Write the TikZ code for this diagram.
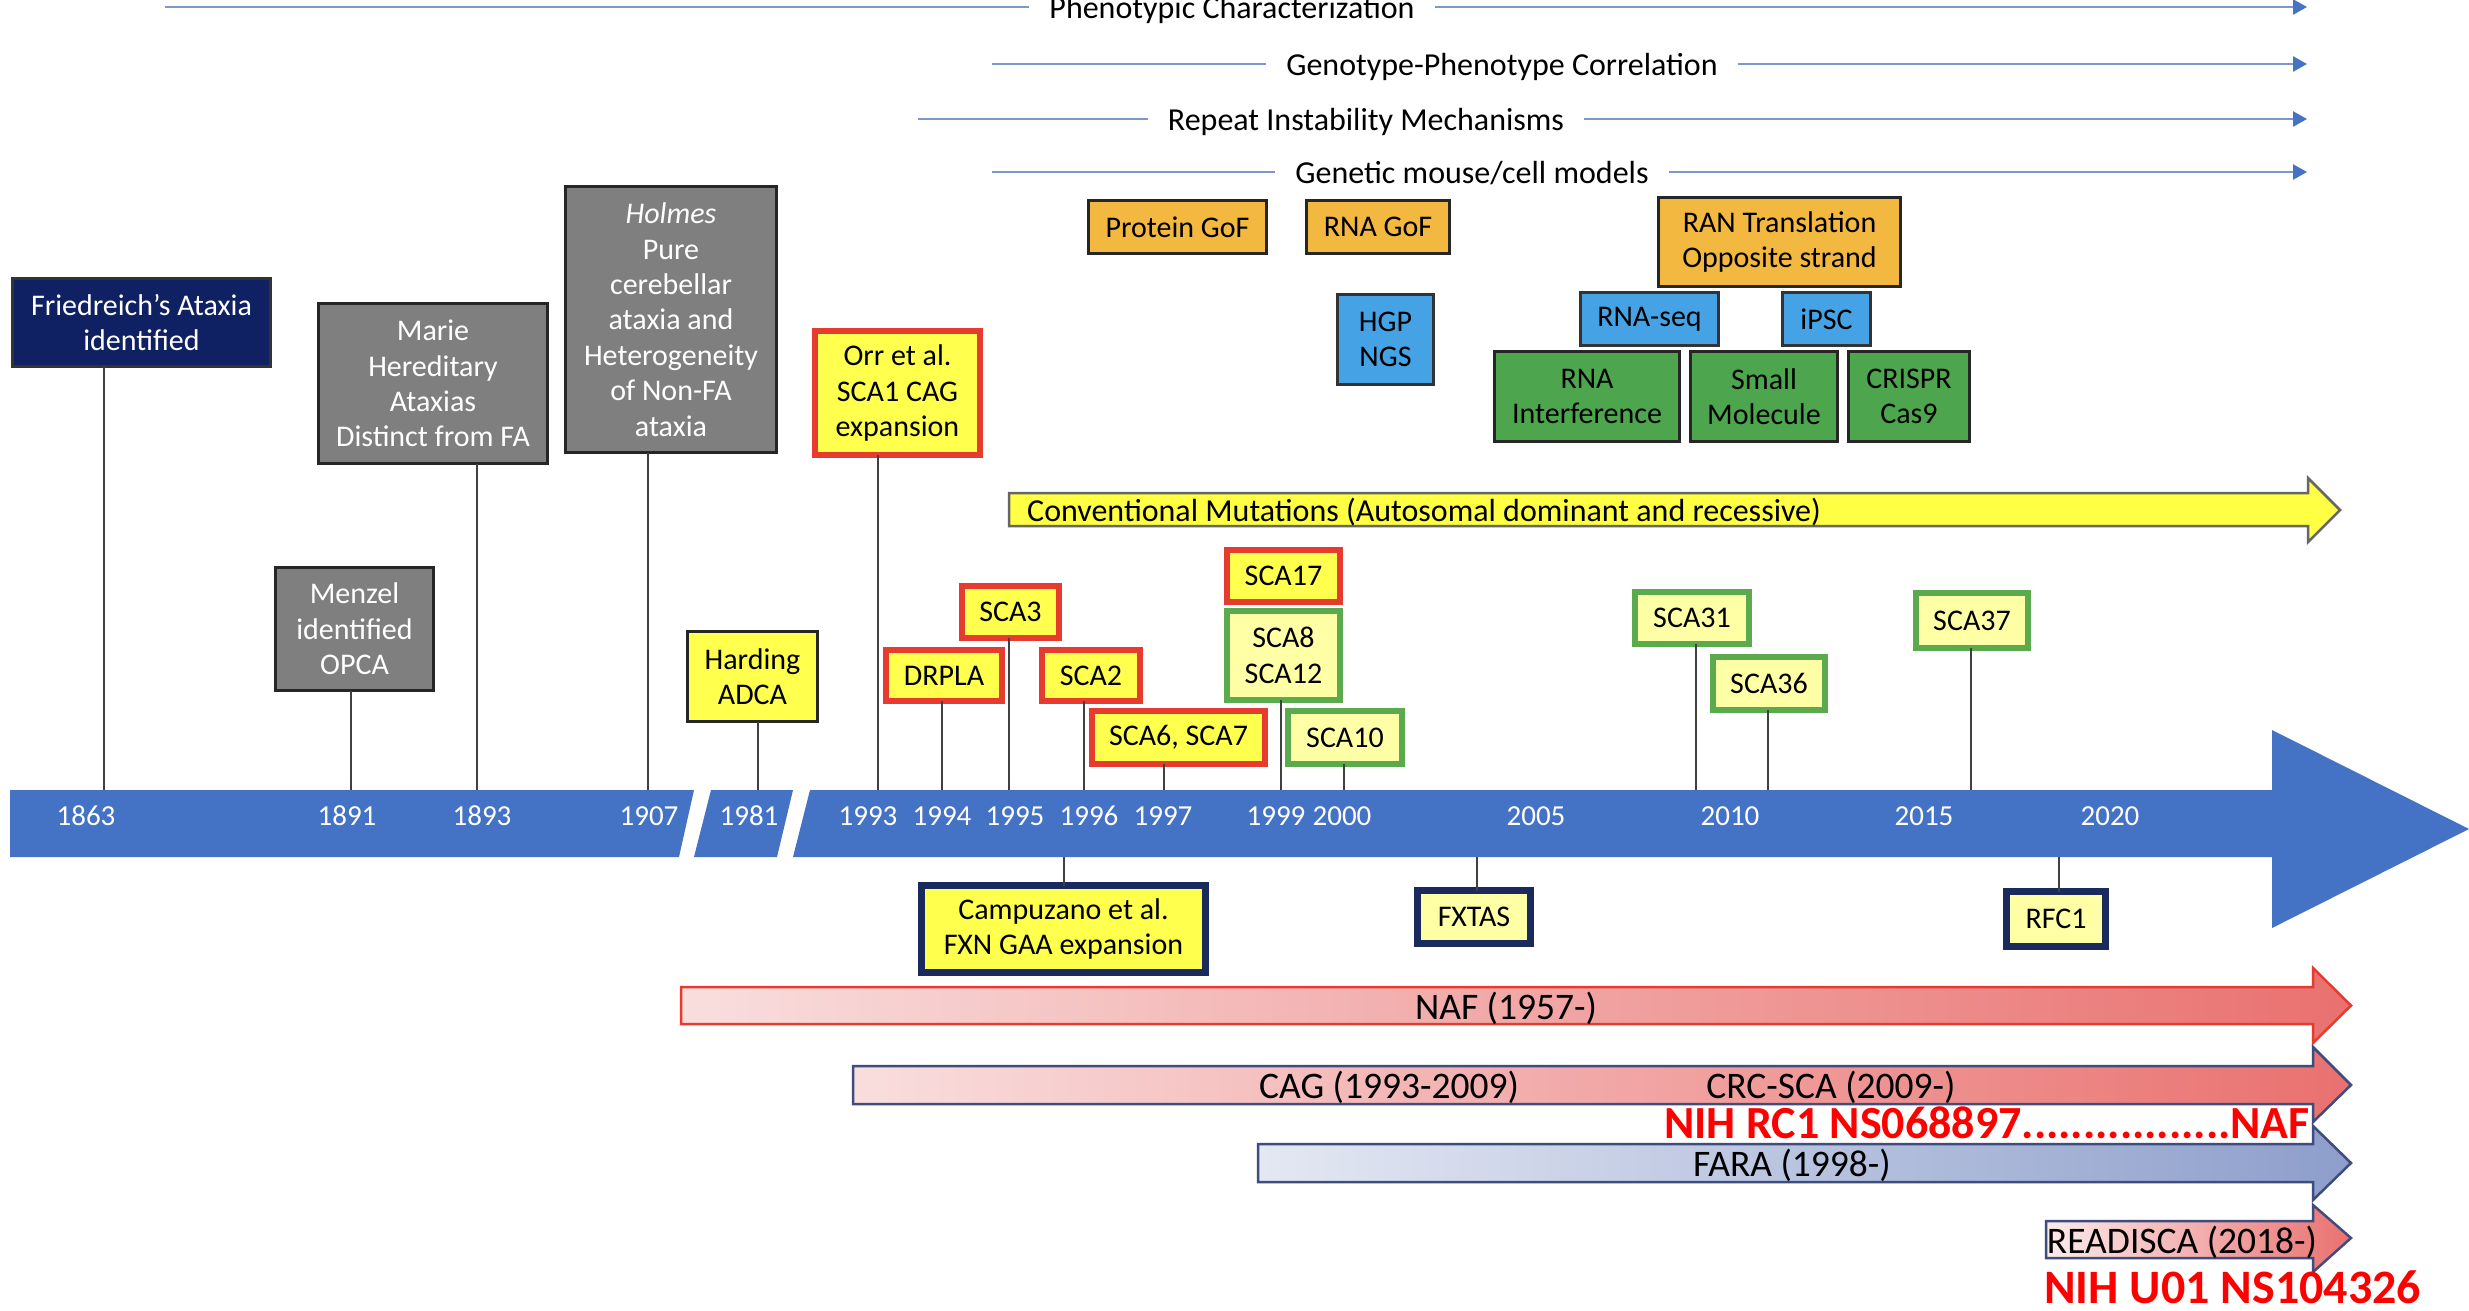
\documentclass[tikz,border=0pt]{standalone}
\usepackage{fontspec}
\setmainfont{Carlito}
\usetikzlibrary{arrows.meta}
\definecolor{navyf}{HTML}{0F2163}
\definecolor{boxgray}{HTML}{7F7F7F}
\definecolor{ylw}{HTML}{FFFF4D}
\definecolor{lylw}{HTML}{FFFFA6}
\definecolor{redb}{HTML}{E63B2E}
\definecolor{grnb}{HTML}{5BAB4E}
\definecolor{navyb}{HTML}{1B2A5C}
\definecolor{orng}{HTML}{F2B840}
\definecolor{blu}{HTML}{45A3E5}
\definecolor{grn}{HTML}{4DA64D}
\definecolor{tlblue}{HTML}{4472C4}
\definecolor{linecol}{HTML}{7B97CB}
\definecolor{convy}{HTML}{FFFF44}
\definecolor{pinkL}{HTML}{F9DEDE}
\definecolor{pinkR}{HTML}{E9716F}
\definecolor{bluL}{HTML}{E4E8F3}
\definecolor{bluR}{HTML}{8D9ECB}
\definecolor{nihred}{HTML}{FF0000}
\definecolor{barbord}{HTML}{3E4D7E}
\tikzset{
  bx/.style={draw, align=center, inner sep=0pt, outer sep=0pt, text=black,
    font=\fontsize{30}{35.4}\selectfont},
  greybx/.style={bx, fill=boxgray, draw=black!85, line width=3pt, text=white},
  navybx/.style={bx, fill=navyf, draw=black!80, line width=3pt, text=white},
  redbx/.style={bx, fill=ylw, draw=redb, line width=6pt},
  grnbx/.style={bx, fill=lylw, draw=grnb, line width=6pt},
  navbx/.style={bx, draw=navyb, line width=7pt},
  blkbx/.style={bx, fill=ylw, draw=black!85, line width=3pt},
  orbx/.style={bx, fill=orng, draw=black!85, line width=2.5pt},
  blbx/.style={bx, fill=blu, draw=black!80, line width=2.5pt},
  gnbx/.style={bx, fill=grn, draw=black!85, line width=2.5pt},
  conn/.style={draw=black!75, line width=2pt},
  toparr/.style={draw=linecol, line width=2.5pt},
  toptxt/.style={anchor=base, inner xsep=20pt, inner ysep=0pt, font=\fontsize{32}{38}\selectfont},
  yr/.style={anchor=base, text=white, font=\fontsize{29}{34}\selectfont},
  bartxt/.style={anchor=base, font=\fontsize{37.5}{44}\selectfont},
  nih/.style={anchor=base west, text=nihred, inner sep=0pt, font=\bfseries\fontsize{46}{52}\selectfont},
  tip/.style={-{Triangle[length=14pt,width=15pt,color=tlblue]}}
}
\begin{document}
\begin{tikzpicture}[x=1pt,y=-1pt]
\useasboundingbox (0,0) rectangle (2469,1310);
\fill[white] (0,0) rectangle (2469,1310);

% ---------- top research lines ----------
\coordinate (l1s) at (165,7);   \coordinate (l1e) at (2307,7);
\coordinate (l2s) at (992,64);  \coordinate (l2e) at (2307,64);
\coordinate (l3s) at (918,119); \coordinate (l3e) at (2307,119);
\coordinate (l4s) at (992,172); \coordinate (l4e) at (2307,172);
\node[toptxt] (ph) at (1232,18) {Phenotypic Characterization};
\node[toptxt] (gp) at (1502,75) {Genotype-Phenotype Correlation};
\node[toptxt] (ri) at (1366,130) {Repeat Instability Mechanisms};
\node[toptxt] (gm) at (1472,183) {Genetic mouse/cell models};
\draw[toparr] (l1s) -- (ph.west |- l1s);
\draw[toparr,tip] (ph.east |- l1s) -- (l1e);
\draw[toparr] (l2s) -- (gp.west |- l2s);
\draw[toparr,tip] (gp.east |- l2s) -- (l2e);
\draw[toparr] (l3s) -- (ri.west |- l3s);
\draw[toparr,tip] (ri.east |- l3s) -- (l3e);
\draw[toparr] (l4s) -- (gm.west |- l4s);
\draw[toparr,tip] (gm.east |- l4s) -- (l4e);

% ---------- mechanism / technology boxes ----------
\node[orbx, minimum width=178pt, minimum height=53pt] (pgof) at (1177.5,227) {Protein GoF};
\node[orbx, minimum width=143pt, minimum height=53pt] (rgof) at (1378,227) {RNA GoF};
\node[orbx, minimum width=242pt, minimum height=89pt] (ran) at (1779.5,242) {RAN Translation\\Opposite strand};
\node[blbx, minimum width=96pt, minimum height=90pt] (hgp) at (1385.5,339.5) {HGP\\NGS};
\node[blbx, minimum width=138pt, minimum height=53pt] (rseq) at (1649.5,319) {RNA-seq};
\node[blbx, minimum width=88pt, minimum height=53pt] (ipsc) at (1826.5,319) {iPSC};
\node[gnbx, minimum width=185pt, minimum height=90pt] (rnai) at (1587,396.5) {RNA\\Interference};
\node[gnbx, minimum width=147pt, minimum height=90pt] (smol) at (1764,396.5) {Small\\Molecule};
\node[gnbx, minimum width=121pt, minimum height=90pt] (cris) at (1909,396.5) {CRISPR\\Cas9};

% ---------- conventional mutations arrow ----------
\draw[draw=black!60, line width=2.5pt, fill=convy]
  (1009,493) -- (2308,493) -- (2308,478) -- (2340,510) -- (2308,542) -- (2308,526) -- (1009,526) -- cycle;
\node[anchor=base west, inner sep=0pt, font=\fontsize{32}{38}\selectfont] (conv) at (1027,521)
  {Conventional Mutations (Autosomal dominant and recessive)};

% ---------- event boxes above the timeline ----------
\node[navybx, minimum width=258pt, minimum height=88pt] (fa) at (141.5,322.5) {Friedreich’s Ataxia\\identified};
\node[greybx, minimum width=229pt, minimum height=160pt] (marie) at (433,383.5) {Marie\\Hereditary\\Ataxias\\Distinct from FA};
\node[greybx, minimum width=211pt, minimum height=266pt] (holmes) at (671,319.5) {\textit{Holmes}\\Pure\\cerebellar\\ataxia and\\Heterogeneity\\of Non-FA\\ataxia};
\node[greybx, minimum width=158pt, minimum height=123pt] (menzel) at (354.5,629) {Menzel\\identified\\OPCA};
\node[blkbx, minimum width=130pt, minimum height=90pt] (hard) at (752.5,676.5) {Harding\\ADCA};
\node[redbx, minimum width=165pt, minimum height=124pt] (orr) at (897.5,393) {Orr et al.\\SCA1 CAG\\expansion};
\node[redbx, minimum width=97pt, minimum height=52pt] (sca3) at (1010.5,612) {SCA3};
\node[redbx, minimum width=116pt, minimum height=51pt] (drpla) at (944,675.5) {DRPLA};
\node[redbx, minimum width=98pt, minimum height=51pt] (sca2) at (1091,675.5) {SCA2};
\node[redbx, minimum width=173pt, minimum height=53pt] (sca6) at (1178.5,737.5) {SCA6, SCA7};
\node[redbx, minimum width=113pt, minimum height=52pt] (sca17) at (1283.5,576) {SCA17};
\node[grnbx, minimum width=113pt, minimum height=89pt] (sca8) at (1283.5,655.5) {SCA8\\SCA12};
\node[grnbx, minimum width=114pt, minimum height=53pt] (sca10) at (1345,737.5) {SCA10};
\node[grnbx, minimum width=114pt, minimum height=52pt] (sca31) at (1692,618) {SCA31};
\node[grnbx, minimum width=112pt, minimum height=53pt] (sca36) at (1769,683.5) {SCA36};
\node[grnbx, minimum width=112pt, minimum height=55pt] (sca37) at (1972,620.5) {SCA37};

% ---------- event boxes below the timeline ----------
\node[navbx, fill=ylw, minimum width=284pt, minimum height=87pt] (camp) at (1063.5,929) {Campuzano et al.\\FXN GAA expansion};
\node[navbx, fill=lylw, minimum width=113pt, minimum height=53pt] (fxtas) at (1474,917) {FXTAS};
\node[navbx, fill=lylw, minimum width=99pt, minimum height=55pt] (rfc1) at (2056,919) {RFC1};

% ---------- connector points on the timeline ----------
\coordinate (t1863) at (104,795);
\coordinate (t1891) at (351,795);
\coordinate (t1893) at (477,795);
\coordinate (t1907) at (648,795);
\coordinate (t1981) at (758,795);
\coordinate (t1993) at (878,795);
\coordinate (t1994) at (942,795);
\coordinate (t1995) at (1009,795);
\coordinate (t1996) at (1084,795);
\coordinate (t1997) at (1164,795);
\coordinate (t1999) at (1281,795);
\coordinate (t2000) at (1344,795);
\coordinate (t2009) at (1696,795);
\coordinate (t2011) at (1768,795);
\coordinate (t2016) at (1971,795);
\coordinate (b1996) at (1064,852);
\coordinate (b2004) at (1477,852);
\coordinate (b2019) at (2059,852);

\draw[conn] (fa.south -| t1863) -- (t1863);
\draw[conn] (menzel.south -| t1891) -- (t1891);
\draw[conn] (marie.south -| t1893) -- (t1893);
\draw[conn] (holmes.south -| t1907) -- (t1907);
\draw[conn] (hard.south -| t1981) -- (t1981);
\draw[conn] (orr.south -| t1993) -- (t1993);
\draw[conn] (drpla.south -| t1994) -- (t1994);
\draw[conn] (sca3.south -| t1995) -- (t1995);
\draw[conn] (sca2.south -| t1996) -- (t1996);
\draw[conn] (sca6.south -| t1997) -- (t1997);
\draw[conn] (sca8.south -| t1999) -- (t1999);
\draw[conn] (sca10.south -| t2000) -- (t2000);
\draw[conn] (sca31.south -| t2009) -- (t2009);
\draw[conn] (sca36.south -| t2011) -- (t2011);
\draw[conn] (sca37.south -| t2016) -- (t2016);
\draw[conn] (b1996) -- (camp.north -| b1996);
\draw[conn] (b2004) -- (fxtas.north -| b2004);
\draw[conn] (b2019) -- (rfc1.north -| b2019);

% ---------- timeline ----------
\fill[tlblue] (10,790) -- (694,790) -- (679,857) -- (10,857) -- cycle;
\fill[tlblue] (711,790) -- (793,790) -- (777,857) -- (694,857) -- cycle;
\fill[tlblue] (810,790) -- (2272,790) -- (2272,730) -- (2469,829) -- (2272,928) -- (2272,857) -- (793,857) -- cycle;

\node[yr] (y1863) at (86,825) {1863};
\node[yr] (y1891) at (347,825) {1891};
\node[yr] (y1893) at (482,825) {1893};
\node[yr] (y1907) at (649,825) {1907};
\node[yr] (y1981) at (749,825) {1981};
\node[yr] (y1993) at (868,825) {1993};
\node[yr] (y1994) at (942,825) {1994};
\node[yr] (y1995) at (1015,825) {1995};
\node[yr] (y1996) at (1089,825) {1996};
\node[yr] (y1997) at (1163,825) {1997};
\node[yr] (y1999) at (1276,825) {1999};
\node[yr] (y2000) at (1342,825) {2000};
\node[yr] (y2005) at (1536,825) {2005};
\node[yr] (y2010) at (1730,825) {2010};
\node[yr] (y2015) at (1924,825) {2015};
\node[yr] (y2020) at (2110,825) {2020};

% ---------- consortium bars ----------
\draw[draw=redb, line width=2.5pt, left color=pinkL, right color=pinkR]
  (681,987) -- (2313,987) -- (2313,968) -- (2351,1005.5) -- (2313,1043) -- (2313,1024) -- (681,1024) -- cycle;
\draw[draw=barbord, line width=2.5pt, left color=pinkL, right color=pinkR]
  (853,1066) -- (2313,1066) -- (2313,1047) -- (2351,1085) -- (2313,1122) -- (2313,1104) -- (853,1104) -- cycle;
\draw[draw=barbord, line width=2.5pt, left color=bluL, right color=bluR]
  (1258,1144) -- (2313,1144) -- (2313,1126) -- (2351,1163) -- (2313,1200) -- (2313,1182) -- (1258,1182) -- cycle;
\draw[draw=barbord, line width=2.5pt, left color=pinkL!60!white, right color=pinkR]
  (2046,1221) -- (2313,1221) -- (2313,1205) -- (2351,1238) -- (2313,1272) -- (2313,1258) -- (2046,1258) -- cycle;

\node[bartxt] (naf) at (1506,1019) {NAF (1957-)};
\node[bartxt] (cag) at (1389,1098) {CAG (1993-2009)};
\node[bartxt] (crc) at (1831,1098) {CRC-SCA (2009-)};
\node[bartxt] (fara) at (1792,1176) {FARA (1998-)};
\node[bartxt] (readi) at (2182,1253) {READISCA (2018-)};

\node[nih] (nih1) at (1664,1138) {NIH RC1 NS068897.................NAF};
\node[nih, font=\bfseries\fontsize{48}{54}\selectfont] (nih2) at (2044,1303) {NIH U01 NS104326};
\end{tikzpicture}
\end{document}
